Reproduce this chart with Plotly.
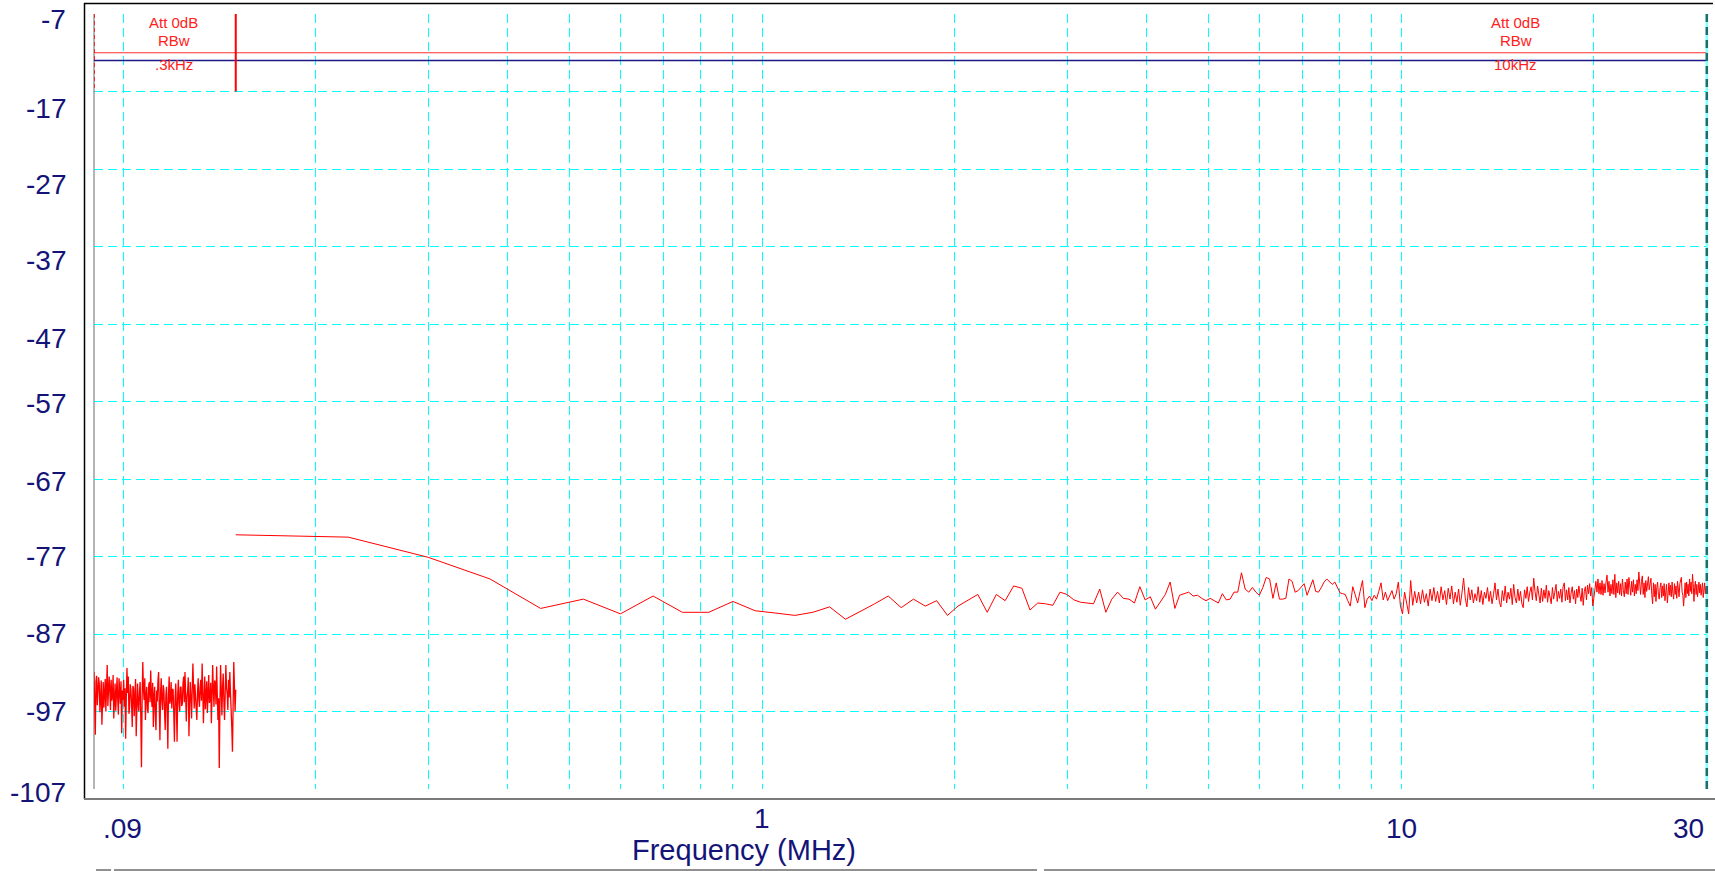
import numpy as np
import plotly.graph_objects as go

# ---------------------------------------------------------------- data
# Band A sweep (RBW 300 Hz), 0.09 - 0.15 MHz, log-spaced sweep points, dBm
NOISE_START, NOISE_STOP = 0.09, 0.15
NOISE_A = [
    -91.9, -95.0, -100.0, -93.1, -92.4, -96.2, -93.8, -92.6, -93.4, -97.1,
    -95.3, -93.0, -98.7, -94.6, -93.2, -96.5, -94.7, -92.8, -97.0, -94.1,
    -91.0, -96.3, -94.7, -92.5, -94.2, -96.8, -92.9, -95.6, -94.9, -92.3,
    -97.9, -94.0, -93.4, -96.9, -94.2, -92.6, -95.5, -97.4, -92.7, -94.8,
    -96.0, -93.1, -99.8, -94.3, -95.5, -92.9, -96.4, -94.0, -100.5, -95.2,
    -91.4, -94.6, -92.5, -97.3, -96.4, -93.5, -94.2, -96.1, -99.0, -93.7,
    -94.0, -97.6, -95.3, -92.8, -100.2, -95.9, -93.4, -96.0, -97.0, -94.4,
    -93.2, -97.8, -104.2, -95.4, -90.6, -94.1, -95.5, -92.7, -98.1, -95.0,
    -93.8, -96.7, -97.2, -93.6, -93.2, -95.8, -91.7, -94.9, -96.4, -93.3,
    -99.0, -95.1, -93.8, -97.5, -99.4, -94.3, -95.7, -93.0, -91.9, -96.2,
    -100.7, -94.5, -92.7, -95.7, -96.8, -93.6, -94.2, -97.1, -99.4, -95.0,
    -93.8, -96.9, -101.8, -94.8, -92.5, -96.0, -95.5, -93.2, -96.6, -94.1,
    -94.2, -97.3, -100.9, -95.4, -93.4, -96.5, -100.9, -94.7, -92.9, -95.9,
    -97.0, -93.9, -93.8, -96.3, -96.0, -93.4, -92.5, -95.8, -91.9, -94.9,
    -98.3, -95.1, -94.4, -92.6, -100.2, -96.0, -93.2, -95.3, -97.9, -94.1,
    -90.8, -93.9, -96.6, -93.5, -94.7, -97.2, -98.1, -94.6, -92.7, -95.4,
    -96.4, -93.8, -92.9, -95.6, -90.8, -94.4, -98.5, -95.2, -92.5, -96.7,
    -95.5, -93.1, -97.2, -94.5, -92.3, -95.9, -95.5, -93.3, -98.5, -95.0,
    -91.0, -94.2, -96.4, -93.0, -93.4, -96.1, -91.2, -94.8, -98.1, -95.3,
    -104.3, -96.0, -91.0, -94.3, -97.5, -93.8, -92.1, -95.7, -98.1, -94.6,
    -91.0, -93.9, -94.7, -96.8, -92.9, -95.2, -91.9, -94.6, -96.4, -99.1,
    -102.2, -95.5, -90.6, -93.7, -97.0, -94.2,
]

# Band B sweep (RBW 10 kHz), starts at 0.15 MHz with a 0.075 MHz step
SWEEP_START, SWEEP_STEP = 0.15, 0.075
SWEEP_B_LOW = [
    -74.2, -74.5, -77.1, -79.9, -83.7, -82.5, -84.4, -82.1, -84.2, -84.2,
    -82.8, -84.0, -84.3, -84.6, -84.2, -83.5, -85.1, -84.1, -83.1, -82.1,
    -83.6, -82.5, -83.4, -82.7, -84.6, -83.4, -82.6, -81.9, -84.2, -81.9,
    -82.7, -80.8, -81.1, -83.9, -83.0, -83.1, -83.3, -81.6, -81.9, -82.6,
    -82.9, -83.0, -83.1, -81.2, -84.2, -82.5, -81.6, -82.4, -82.5, -83.0,
    -80.9, -82.6, -82.2, -83.8, -82.8, -81.9, -80.3, -83.7, -82.0, -81.8,
    -81.6, -82.1, -82.0, -82.4, -82.7, -82.4, -82.7, -83.0, -81.8, -82.6,
    -82.5, -81.6, -81.6, -79.1, -81.2, -81.6, -81.0, -81.6, -82.0, -81.0,
    -79.7, -79.9, -82.4, -80.4, -82.5, -82.5, -82.4, -79.9, -80.2, -81.6,
    -81.4, -81.0, -80.5, -82.0, -81.0, -80.0, -81.5, -81.6, -81.0, -80.3,
]
SWEEP_B_MID = [
    -79.9, -80.3, -80.6, -80.3, -81.0, -81.7, -81.8, -81.9, -82.7, -83.4,
    -80.9, -82.0, -83.0, -81.5, -80.1, -83.6, -82.5, -82.1, -82.7, -82.0,
    -82.5, -81.5, -80.4, -82.6, -81.6, -82.7, -82.0, -81.4, -82.5, -81.8,
    -80.3, -83.4, -84.4, -81.6, -83.0, -84.4, -80.1, -83.3, -81.5, -83.0,
    -81.6, -83.1, -81.3, -82.9, -81.8, -83.4, -81.2, -82.7, -81.0, -82.8,
    -81.5, -83.0, -80.9, -82.6, -81.4, -83.2, -81.1, -82.5, -80.8, -83.1,
    -81.6, -82.9, -81.2, -83.3, -81.7, -79.8, -82.4, -83.5, -81.0, -82.6,
    -81.3, -83.0, -81.8, -82.7, -80.9, -82.9, -81.4, -83.2, -81.6, -82.4,
    -81.0, -82.8, -81.5, -83.1, -81.9, -80.4, -82.6, -81.2, -82.9, -83.5,
    -81.4, -82.7, -80.8, -83.0, -81.6, -82.5, -81.1, -83.2, -80.6, -82.3,
]
SWEEP_B_HIGH = [
    -83.0, -81.2, -82.7, -81.5, -83.1, -83.6, -81.3, -82.4, -80.9, -82.8,
    -81.6, -80.9, -82.6, -79.8, -81.5, -82.7, -80.8, -82.2, -83.0, -81.1,
    -82.8, -81.3, -82.4, -80.7, -82.9, -81.4, -82.2, -83.1, -81.0, -82.5,
    -81.6, -80.6, -82.8, -81.5, -82.4, -81.2, -82.9, -80.9, -80.4, -82.7,
    -81.3, -82.6, -81.0, -83.0, -81.7, -80.9, -82.5, -81.4, -83.1, -81.2,
    -82.3, -80.8, -82.0, -82.8, -81.1, -83.3, -81.5, -80.9, -82.6, -80.7,
    -81.8, -80.5, -82.1, -81.0, -83.4, -82.6, -81.3, -80.2, -81.6, -79.9,
    -81.8, -80.4, -81.9, -80.1, -82.0, -80.5, -81.7, -80.3, -79.4, -81.6,
    -80.2, -82.1, -80.6, -81.8, -80.0, -81.9, -79.3, -82.3, -80.4, -81.7,
    -80.2, -81.9, -80.5, -82.1, -79.9, -81.4, -82.2, -80.3, -81.8, -79.9,
    -81.9, -79.7, -81.3, -82.0, -80.2, -81.6, -80.0, -82.1, -80.6, -81.8,
    -80.0, -81.4, -79.0, -81.0, -81.9, -80.2, -79.5, -81.9, -80.4, -82.3,
    -80.1, -81.5, -79.9, -79.6, -81.3, -80.2, -79.8, -81.9, -83.1, -80.4,
    -82.2, -80.6, -82.8, -81.0, -80.3, -82.0, -82.5, -81.0, -80.4, -82.3,
    -80.8, -82.1, -80.5, -82.7, -81.2, -80.6, -83.0, -81.1, -80.4, -82.0,
    -80.7, -82.2, -80.3, -81.8, -82.5, -80.5, -81.9, -80.8, -82.4, -80.2,
    -81.7, -82.2, -80.5, -80.1, -79.7, -81.6, -82.0, -83.4, -81.2, -80.4,
    -82.3, -80.3, -81.8, -80.6, -82.1, -79.9, -81.5, -80.3, -81.8, -79.3,
    -80.5, -82.8, -81.0, -80.2, -81.9, -80.6, -82.2, -80.7, -80.3, -81.7,
    -80.6, -82.0, -80.8, -80.4, -82.3, -80.9, -80.4, -81.8, -81.0,
]

# Limit / reference lines and band marker
LIMIT_RED = -12.0
LIMIT_NAVY = -13.0
BAND_EDGE_MHZ = 0.15
BAND_MARK_DB = (-7, -17)

# Axes
F_MIN, F_MAX = 0.09, 30.0
DB_MIN, DB_MAX = -107, -7
X_GRID = [0.1, 0.2, 0.3, 0.4, 0.5, 0.6, 0.7, 0.8, 0.9,
          1, 2, 3, 4, 5, 6, 7, 8, 9, 10, 20, 30]
Y_TICKS = [-107, -97, -87, -77, -67, -57, -47, -37, -27, -17, -7]
X_LABELS = [".09", "1", "10", "30"]
BAND_TEXT_A = ["Att 0dB", "RBw", ".3kHz"]
BAND_TEXT_B = ["Att 0dB", "RBw", "10kHz"]

# ---------------------------------------------------------------- layout helpers
W, H = 1715, 871
ML, MR, MT, MB = 94, 9, 14, 82
PW, PH = W - ML - MR, H - MT - MB
FONT = "Liberation Sans, Arial, sans-serif"
NAVY = "#141478"
RED = "#ff0000"
CYAN = "#00ffff"
# vertical nudge (px, downwards) of each value label, in Y_TICKS order
Y_LABEL_NUDGE = [3, 0, -1, 0, 2, 2, 14, 14, 15, 17, 5]


def px(x):
    return (x - ML) / PW


def py(y):
    return (H - MB - y) / PH


# ---------------------------------------------------------------- traces
noise_f = np.geomspace(NOISE_START, NOISE_STOP, len(NOISE_A))
sweep_vals = SWEEP_B_LOW + SWEEP_B_MID + SWEEP_B_HIGH
sweep_f = SWEEP_START + SWEEP_STEP * np.arange(len(sweep_vals))

fig = go.Figure()
fig.add_trace(go.Scatter(x=[F_MIN, F_MAX], y=[LIMIT_RED, LIMIT_RED], mode="lines",
                         line=dict(color="#ff3030", width=1.2), hoverinfo="skip"))
fig.add_trace(go.Scatter(x=[F_MIN, F_MAX], y=[LIMIT_NAVY, LIMIT_NAVY], mode="lines",
                         line=dict(color="#1a1a8a", width=1.4), hoverinfo="skip"))
fig.add_trace(go.Scatter(x=[BAND_EDGE_MHZ, BAND_EDGE_MHZ], y=list(BAND_MARK_DB),
                         mode="lines", line=dict(color=RED, width=2), hoverinfo="skip"))
fig.add_trace(go.Scatter(x=[F_MIN, F_MIN], y=list(BAND_MARK_DB), mode="lines",
                         line=dict(color=RED, width=1.5, dash="4px,3px"), hoverinfo="skip"))
fig.add_trace(go.Scatter(x=noise_f, y=NOISE_A, mode="lines",
                         line=dict(color=RED, width=1.3)))
fig.add_trace(go.Scatter(x=sweep_f, y=sweep_vals, mode="lines",
                         line=dict(color=RED, width=1)))

# ---------------------------------------------------------------- frame and edges
shapes = [
    # edge of the band A region
    dict(type="line", xref="paper", yref="paper", x0=0, x1=0, y0=0, y1=1,
         line=dict(color="#6a6a6a", width=1), layer="below"),
    # right edge
    dict(type="line", xref="paper", yref="paper", x0=1.0005, x1=1.0005, y0=0, y1=1,
         line=dict(color="#7fffff", width=2.5), layer="below"),
    dict(type="line", xref="paper", yref="paper", x0=1.0005, x1=1.0005, y0=0, y1=1,
         line=dict(color="#1e6e6e", width=2.5, dash="8px,5px")),
    # outer frame
    dict(type="line", xref="paper", yref="paper", x0=px(84), x1=px(1713),
         y0=py(3.5), y1=py(3.5), line=dict(color="#000000", width=1.5)),
    dict(type="line", xref="paper", yref="paper", x0=px(84.5), x1=px(84.5),
         y0=py(3), y1=py(799), line=dict(color="#000000", width=1.5)),
    dict(type="line", xref="paper", yref="paper", x0=px(84), x1=px(1715),
         y0=py(799), y1=py(799), line=dict(color="#7a7a7a", width=2)),
    # status-bar separators
    dict(type="line", xref="paper", yref="paper", x0=px(96), x1=px(111),
         y0=py(870), y1=py(870), line=dict(color="#222222", width=1)),
    dict(type="line", xref="paper", yref="paper", x0=px(114), x1=px(1037),
         y0=py(870), y1=py(870), line=dict(color="#222222", width=1)),
    dict(type="line", xref="paper", yref="paper", x0=px(1044), x1=px(1715),
         y0=py(870), y1=py(870), line=dict(color="#222222", width=1)),
]

# ---------------------------------------------------------------- text
annotations = []
lab_font = dict(family=FONT, size=28, color=NAVY)

# value labels of the dB axis, placed against the axis values
for v, nudge in zip(Y_TICKS, Y_LABEL_NUDGE):
    annotations.append(dict(text=str(v), x=px(68), xref="paper", xanchor="right",
                            y=v, yref="y", yanchor="middle", yshift=-nudge,
                            showarrow=False, font=lab_font))

x_label_pos = [
    dict(x=px(122.5), xref="paper", xanchor="center", y=py(828)),
    dict(x=np.log10(1), xref="x", xanchor="center", y=py(818)),
    dict(x=np.log10(10), xref="x", xanchor="center", y=py(828)),
    dict(x=1.0, xref="paper", xanchor="right", y=py(828)),
]
for text, pos in zip(X_LABELS, x_label_pos):
    annotations.append(dict(text=text, yref="paper", yanchor="middle",
                            showarrow=False, font=lab_font, **pos))
annotations.append(dict(text="Frequency (MHz)", x=px(744), y=py(850), xref="paper",
                        yref="paper", xanchor="center", yanchor="middle",
                        showarrow=False, font=dict(family=FONT, size=29, color=NAVY)))

band_font = dict(family=FONT, size=15, color="#ff2020")
for cx, lines in ((173.5, BAND_TEXT_A), (1515.5, BAND_TEXT_B)):
    for cy, t in zip((22.5, 40, 64), lines):
        annotations.append(dict(text=t, x=px(cx), y=py(cy), xref="paper", yref="paper",
                                xanchor="center", yanchor="middle",
                                showarrow=False, font=band_font))

fig.update_layout(
    width=W, height=H,
    margin=dict(l=ML, r=MR, t=MT, b=MB, pad=0, autoexpand=False),
    paper_bgcolor="#ffffff", plot_bgcolor="#ffffff",
    showlegend=False,
    shapes=shapes,
    annotations=annotations,
    xaxis=dict(type="log", range=[np.log10(F_MIN), np.log10(F_MAX)],
               tickvals=X_GRID, showticklabels=False, ticks="", automargin=False,
               showgrid=True, gridcolor=CYAN, gridwidth=1, griddash="9px,5px",
               zeroline=False, showline=False),
    yaxis=dict(range=[DB_MIN, DB_MAX], tickvals=Y_TICKS, showticklabels=False,
               ticks="", automargin=False,
               showgrid=True, gridcolor=CYAN, gridwidth=1, griddash="9px,5px",
               zeroline=False, showline=False),
)

fig.write_html("out.html")
